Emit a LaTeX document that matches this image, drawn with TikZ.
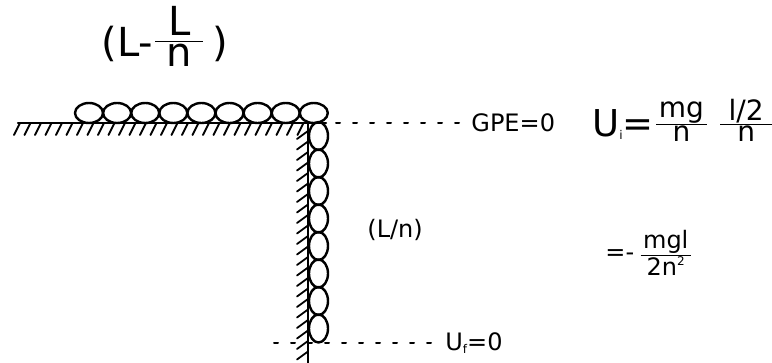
\documentclass[tikz,border=0pt]{standalone}
\usepackage{fontspec}
\setmainfont{DejaVu Sans}
\newcommand{\lowsub}[1]{\raisebox{-1.5pt}{\fontsize{6}{6}\selectfont #1}}
\newcommand{\highsup}[1]{\raisebox{0.42em}{\fontsize{6}{6}\selectfont #1}}
\newcommand{\barfrac}[3]{$\frac{\makebox[#1]{#2}}{\makebox[#1]{#3}}$}
\begin{document}
\begin{tikzpicture}[line cap=round,line join=round,x=0.5pt,y=-0.5pt,
	bead/.style={line width=1.2pt},
	hatch/.style={line width=0.9pt},
	level/.style={line width=1pt,dash pattern=on 2pt off 6.5pt},
	lbl/.style={inner sep=0pt,anchor=base west}]
	\useasboundingbox (0,0) rectangle (772,363);
	\draw[line width=1.2pt] (18,123) -- (326,123);
	\foreach \x in {20,30.5,...,306}
	\draw[hatch,shift={(\x,123)}] (0,0) -- (-6,12);
	\draw[line width=1pt] (308,123) -- (308,363);
	\foreach \y in {131,141.5,...,360}
	\draw[hatch,shift={(308,\y)}] (0,0) -- (-11,8);
	\foreach \k in {0,...,8}
	\draw[bead] ({89+28.1*\k},113) ellipse [x radius=14,y radius=10];
	\foreach \k in {0,...,7}
	\draw[bead] (318.5,{136+27.5*\k}) ellipse [x radius=9.5,y radius=14];
	\node[lbl] (toplen) at (101,57) {\fontsize{20}{24}\selectfont (L-\raisebox{2.5pt}{\barfrac{1.2em}{L}{n}}\,)};
	\node[lbl] (hanglen) at (367,238) {\fontsize{12}{14}\selectfont (L/n)};
	\node[lbl] (gpe) at (471,132) {\fontsize{12}{14}\selectfont GPE=0};
	\node[lbl] (uf) at (445,351) {\fontsize{12}{14}\selectfont U\lowsub{f}=0};
	\node[lbl] (ui) at (592,137) {{\fontsize{18.5}{22}\selectfont U\lowsub{i}=}{\fontsize{14}{17}\selectfont\raisebox{2.5pt}{\barfrac{1.8em}{mg}{n}}\ \raisebox{2.5pt}{\barfrac{1.85em}{l/2}{n}}}};
	\node[lbl] (uires) at (605,261) {\fontsize{12}{14}\selectfont =-\,\barfrac{2.1em}{mgl}{2n\highsup{2}}};
	\coordinate (gpestart) at (336,123);
	\coordinate (ufstart) at (274,343);
	\draw[level] (gpestart) -- (gpe.west |- gpestart);
	\draw[level] (ufstart) -- ([xshift=-3pt]uf.west |- ufstart);
\end{tikzpicture}
\end{document}
